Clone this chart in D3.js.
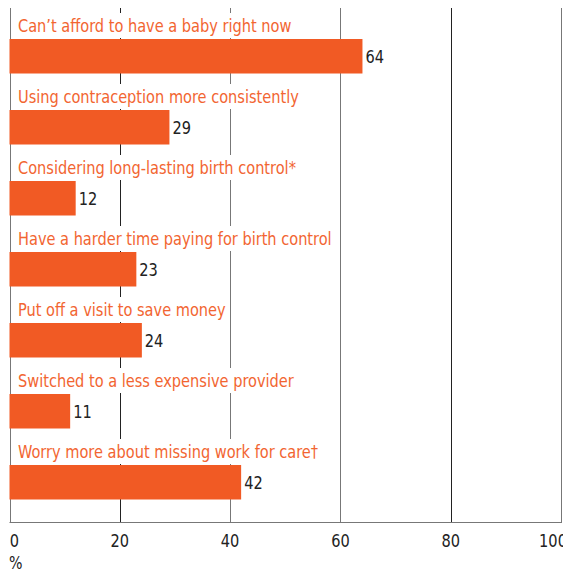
<!DOCTYPE html>
<html><head><meta charset="utf-8">
<script src="https://cdn.jsdelivr.net/npm/d3@7"></script>
<style>
html,body{margin:0;padding:0;background:#fff;}
text{font-family:"DejaVu Sans Condensed","DejaVu Sans",sans-serif;font-stretch:condensed;}
</style></head>
<body>
<svg id="c" width="563" height="572"></svg>
<script>
const categories = [
  "Can’t afford to have a baby right now",
  "Using contraception more consistently",
  "Considering long-lasting birth control*",
  "Have a harder time paying for birth control",
  "Put off a visit to save money",
  "Switched to a less expensive provider",
  "Worry more about missing work for care†"
];
const values = [64, 29, 12, 23, 24, 11, 42];
const tickValues = [0, 20, 40, 60, 80, 100];
const axisUnit = "%";

const svg = d3.select("#c");
const orange = "#f15a24";
const plotTop = 8, plotBottom = 522;
const sx = 0.9;
const x = d3.scaleLinear().domain([0, 100]).range([9.5, 561]);
const y = d3.scaleBand().domain(categories).range([39, 499.5]).paddingInner(0.514).paddingOuter(0);

// gridlines
svg.append("g").selectAll("line").data(tickValues).join("line")
  .attr("x1", d => Math.round(x(d)) + 0.5).attr("x2", d => Math.round(x(d)) + 0.5)
  .attr("y1", plotTop).attr("y2", plotBottom)
  .attr("stroke", d => (d === 20 || d === 80) ? "#222" : "#777").attr("stroke-width", 1);

// bottom axis line
svg.append("line").attr("x1", x(0)).attr("x2", x(100) + 1)
  .attr("y1", plotBottom + 0.5).attr("y2", plotBottom + 0.5)
  .attr("stroke", "#777").attr("stroke-width", 1.2);

// label boxes and labels
const lg = svg.append("g");
categories.forEach((c, i) => {
  const top = y(c);
  const g = lg.append("g").attr("transform", `translate(18,${top - 7}) scale(${sx},1)`);
  const t = g.append("text").attr("x", 0).attr("y", 0)
    .attr("fill", "#f26531").attr("font-size", 18).text(c);
  const w = t.node().getBBox().width * sx;
  lg.insert("rect", "g").attr("x", 12).attr("y", top - 26)
    .attr("width", 18 + w + 4 - 12).attr("height", 25).attr("fill", "#fff");
});

// bars
svg.append("g").selectAll("rect").data(values).join("rect")
  .attr("x", x(0)).attr("y", (d, i) => y(categories[i]))
  .attr("width", d => x(d) - x(0)).attr("height", y.bandwidth())
  .attr("fill", orange);

// value labels
svg.append("g").selectAll("g").data(values).join("g")
  .attr("transform", (d, i) => `translate(${x(d) + 3},${y(categories[i]) + y.bandwidth() / 2}) scale(${sx},1)`)
  .append("text").attr("dy", "0.36em").attr("fill", "#222").attr("font-size", 18).text(d => d);

// tick labels
svg.append("g").selectAll("g").data(tickValues).join("g")
  .attr("transform", d => `translate(${d === 0 ? x(d) + 5 : d === 100 ? x(d) - 8 : x(d)},547) scale(${sx},1)`)
  .append("text").attr("text-anchor", "middle").attr("fill", "#222").attr("font-size", 18)
  .text(d => d);
svg.append("g").attr("transform", `translate(9,569) scale(${sx},1)`)
  .append("text").attr("fill", "#222").attr("font-size", 17.5).text(axisUnit);
</script>
</body></html>
